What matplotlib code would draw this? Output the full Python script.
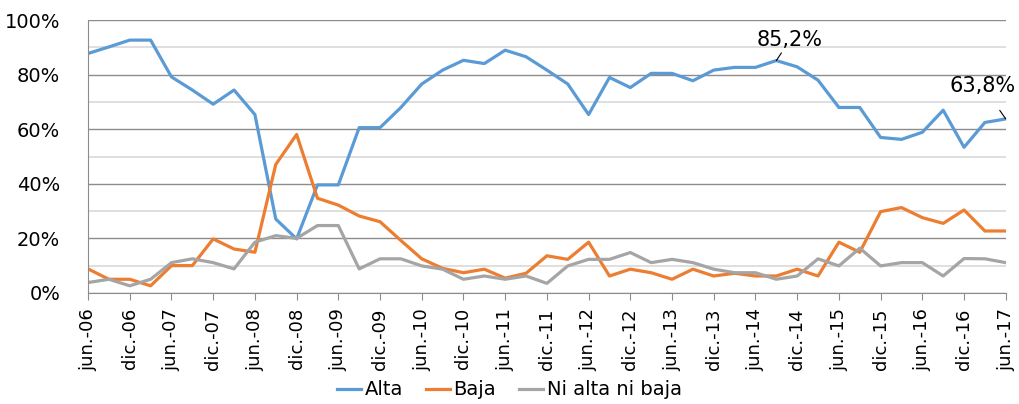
import matplotlib.pyplot as plt
from matplotlib.ticker import MultipleLocator, FuncFormatter

# quarterly values jun-06 .. jun-17 (%)
alta = [87.8, 90.2, 92.7, 92.7, 79.2, 74.4, 69.2, 74.4, 65.4, 27.1,
        19.8, 39.6, 39.6, 60.6, 60.6, 68.0, 76.6, 81.7, 85.3, 84.1,
        89.0, 86.6, 81.7, 76.6, 65.4, 79.0, 75.3, 80.5, 80.5, 77.8,
        81.7, 82.7, 82.7, 85.2, 82.9, 78.0, 68.0, 68.0, 57.0, 56.3,
        58.9, 67.0, 53.4, 62.5, 63.8]
baja = [8.8, 5.0, 5.0, 2.6, 10.0, 10.0, 19.8, 16.1, 14.9, 47.1,
        58.1, 34.7, 32.2, 28.2, 26.1, 19.2, 12.5, 9.0, 7.4, 8.7,
        5.4, 7.2, 13.6, 12.3, 18.6, 6.2, 8.7, 7.4, 5.0, 8.7,
        6.2, 7.2, 6.2, 6.2, 8.7, 6.2, 18.6, 14.9, 29.8, 31.3,
        27.6, 25.5, 30.4, 22.7, 22.7]
ni = [3.8, 5.0, 2.6, 5.0, 11.1, 12.5, 11.1, 8.8, 18.6, 21.0,
      20.0, 24.7, 24.7, 8.8, 12.5, 12.5, 9.9, 8.7, 5.0, 6.2,
      5.0, 6.2, 3.5, 9.9, 12.3, 12.3, 14.8, 11.1, 12.3, 11.1,
      8.7, 7.4, 7.4, 5.0, 6.2, 12.5, 9.9, 16.4, 9.9, 11.1,
      11.1, 6.2, 12.6, 12.5, 11.1]
tick_labels = []
for yy in range(6, 18):
    tick_labels.append('jun.-%02d' % yy)
    if yy < 17:
        tick_labels.append('dic.-%02d' % yy)

plt.rcParams['font.family'] = ['DejaVu Sans']

fig = plt.figure(figsize=(10.19, 4.04), dpi=100)
ax = fig.add_axes([0.0864, 0.275, 0.9006, 0.675])

xx = list(range(len(alta)))
ax.plot(xx, alta, color='#5B9BD5', lw=2.3, label='Alta', solid_joinstyle='round')
ax.plot(xx, baja, color='#ED7D31', lw=2.3, label='Baja', solid_joinstyle='round')
ax.plot(xx, ni, color='#A5A5A5', lw=2.3, label='Ni alta ni baja', solid_joinstyle='round')

ax.set_xlim(0, len(alta) - 1)
ax.set_ylim(0, 100)
ax.set_xticks(list(range(0, len(alta), 2)))
ax.set_xticklabels(tick_labels, rotation=90, fontsize=13)
ax.yaxis.set_major_locator(MultipleLocator(20))
ax.yaxis.set_minor_locator(MultipleLocator(10))
ax.yaxis.set_major_formatter(FuncFormatter(lambda v, p: '%d%%' % v))
ax.tick_params(axis='y', which='both', length=0, labelsize=14, pad=20)
ax.tick_params(axis='x', length=5, color='#8c8c8c', direction='out', pad=6)
ax.grid(axis='y', which='major', color='#8c8c8c', lw=1)
ax.grid(axis='y', which='minor', color='#d9d9d9', lw=1.2)
ax.set_axisbelow(True)
for s in ['top', 'right']:
    ax.spines[s].set_visible(False)
for s in ['left', 'bottom']:
    ax.spines[s].set_color('#8c8c8c')

# annotations
ax.annotate('85,2%', xy=(33, alta[33]), xytext=(33.65, 92.7), fontsize=15,
            ha='center', va='center',
            arrowprops=dict(arrowstyle='-', color='black', lw=0.8, shrinkA=9, shrinkB=0))
ax.annotate('63,8%', xy=(44, alta[44]), xytext=(42.9, 75.8), fontsize=15,
            ha='center', va='center',
            arrowprops=dict(arrowstyle='-', color='black', lw=0.8, shrinkA=10, shrinkB=0))

fig.legend(loc='center', bbox_to_anchor=(0.5, 0.035), ncol=3, frameon=False,
           fontsize=14, handlelength=1.2, handletextpad=0.2, columnspacing=1.2)

fig.savefig('out.png', dpi=100)
